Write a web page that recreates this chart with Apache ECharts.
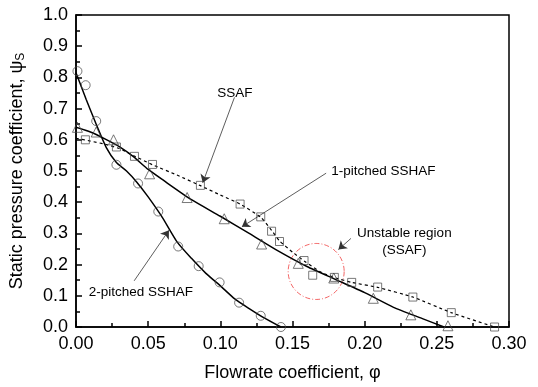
<!DOCTYPE html>
<html>
<head>
<meta charset="utf-8">
<script src="https://cdn.jsdelivr.net/npm/echarts@6/dist/echarts.min.js"></script>
<style>html,body{margin:0;padding:0;background:#fff}#c{width:538px;height:387px}</style>
</head>
<body>
<div id="c"></div>
<script>
// measured points (phi, psi_s)
const twoPitched = [[0.001,0.82],[0.0067,0.775],[0.014,0.66],[0.028,0.52],[0.043,0.46],[0.057,0.37],[0.0708,0.258],[0.085,0.195],[0.0995,0.143],[0.113,0.078],[0.128,0.036],[0.142,0.0]];
const onePitched = [[0.001,0.64],[0.014,0.625],[0.026,0.60],[0.051,0.491],[0.077,0.415],[0.1027,0.347],[0.1286,0.266],[0.154,0.204],[0.1786,0.157],[0.206,0.092],[0.232,0.039],[0.2577,0.004]];
const ssaf = [[0.0065,0.60],[0.028,0.577],[0.0405,0.547],[0.053,0.521],[0.0862,0.454],[0.1137,0.394],[0.128,0.353],[0.1355,0.307],[0.141,0.274],[0.158,0.213],[0.164,0.166],[0.179,0.159],[0.191,0.143],[0.209,0.128],[0.2334,0.096],[0.26,0.046],[0.29,0.0]];
// fitted curves
const twoPitchedFit = [[0,0.815],[0.007,0.73],[0.014,0.65],[0.021,0.575],[0.028,0.527],[0.035,0.50],[0.042,0.465],[0.05,0.417],[0.06,0.35],[0.07,0.273],[0.08,0.22],[0.09,0.172],[0.10,0.132],[0.11,0.09],[0.12,0.059],[0.13,0.03],[0.142,0.0]];
const onePitchedFit = [[0,0.64],[0.01,0.625],[0.02,0.603],[0.03,0.578],[0.04,0.545],[0.05,0.505],[0.06,0.472],[0.08,0.408],[0.10,0.355],[0.12,0.30],[0.14,0.244],[0.16,0.194],[0.18,0.152],[0.20,0.11],[0.22,0.063],[0.24,0.027],[0.255,0.0]];
const ssafFit = [[0,0.605],[0.01,0.596],[0.02,0.586],[0.03,0.572],[0.04,0.549],[0.053,0.52],[0.07,0.487],[0.0862,0.453],[0.10,0.423],[0.1137,0.394],[0.128,0.352],[0.1355,0.31],[0.141,0.276],[0.15,0.24],[0.158,0.212],[0.17,0.175],[0.18,0.157],[0.191,0.143],[0.209,0.127],[0.2334,0.096],[0.26,0.046],[0.29,0.0]];
// unstable region centre
const unstableCentre = [[0.1664,0.178]];
// annotations: text, text anchor, arrow start, arrow end (data coords)
const annTexts = ['SSAF','1-pitched SSHAF','Unstable region\n(SSAF)','2-pitched SSHAF'];
const annAnchors = [[0.110,0.749],[0.2129,0.500],[0.2275,0.273],[0.0449,0.110]];
const annArrows = [
  [[0.1098,0.736],[0.0878,0.462]],
  [[0.1733,0.493],[0.1149,0.321]],
  [[0.1905,0.284],[0.1818,0.248]],
  [[0.0403,0.148],[0.0644,0.310]]
];

const FONT = 'Liberation Sans, Arial, sans-serif';
const chart = echarts.init(document.getElementById('c'));
const markerStyle = {color:'rgba(0,0,0,0)', borderColor:'#444', borderWidth:0.9};
chart.setOption({
  animation:false,
  backgroundColor:'#fff',
  grid:{left:73, top:15, right:29, bottom:53, show:true, borderColor:'#000', borderWidth:1.5, backgroundColor:'transparent'},
  xAxis:{
    type:'value', min:0, max:0.3, interval:0.05,
    name:'Flowrate coefficient, φ', nameLocation:'middle', nameGap:37,
    nameTextStyle:{fontFamily:FONT, fontSize:18, color:'#000'},
    axisLine:{lineStyle:{color:'#000', width:1.5}},
    axisTick:{inside:true, length:6, lineStyle:{color:'#000', width:1.5}},
    minorTick:{show:true, splitNumber:2, length:4, lineStyle:{color:'#000', width:1.5}},
    axisLabel:{fontFamily:FONT, fontSize:18, color:'#000', margin:8, formatter:v=>v.toFixed(2)},
    splitLine:{show:false}
  },
  yAxis:{
    type:'value', min:0, max:1, interval:0.1,
    name:'Static pressure coefficient, ψ{s|S}', nameLocation:'middle', nameGap:49,
    nameTextStyle:{fontFamily:FONT, fontSize:18, color:'#000', rich:{s:{fontFamily:FONT, fontSize:12, color:'#000', padding:[8,0,0,0]}}},
    axisLine:{lineStyle:{color:'#000', width:1.5}},
    axisTick:{inside:true, length:6, lineStyle:{color:'#000', width:1.5}},
    minorTick:{show:true, splitNumber:2, length:4, lineStyle:{color:'#000', width:1.5}},
    axisLabel:{fontFamily:FONT, fontSize:18, color:'#000', margin:8, formatter:v=>v.toFixed(1)},
    splitLine:{show:false}
  },
  series:[
    {type:'scatter', data:unstableCentre, symbol:'circle', symbolSize:56, silent:true, z:1,
     itemStyle:{color:'rgba(0,0,0,0)', borderColor:'#f04040', borderWidth:1, borderType:[5,2,1,2]}},
    {type:'line', data:twoPitchedFit, smooth:0.2, showSymbol:false, lineStyle:{color:'#000', width:1.5}, z:2},
    {type:'line', data:onePitchedFit, smooth:0.2, showSymbol:false, lineStyle:{color:'#000', width:1.5}, z:2},
    {type:'line', data:ssafFit, smooth:0.15, showSymbol:false, lineStyle:{color:'#000', width:1.2, type:[3,3]}, z:2},
    {type:'scatter', data:twoPitched, symbol:'circle', symbolSize:9, itemStyle:markerStyle, z:3},
    {type:'scatter', data:onePitched, symbol:'triangle', symbolSize:10, itemStyle:markerStyle, z:3},
    {type:'scatter', data:ssaf, symbol:'rect', symbolSize:8, itemStyle:markerStyle, z:3},
    {type:'lines', coordinateSystem:'cartesian2d', data:annArrows.map(a=>({coords:a})),
     symbol:['none','arrow'], symbolSize:[0,8], lineStyle:{color:'#333', width:0.8, opacity:1}, z:4}
  ]
});
const texts = annTexts.map((t,i)=>{
  const p = chart.convertToPixel({gridIndex:0}, annAnchors[i]);
  return {type:'text', x:p[0], y:p[1], z:10,
    style:{text:t, fontFamily:FONT, fontSize:13.5, fill:'#000', align:'center', verticalAlign:'middle', lineHeight:17}};
});
chart.setOption({graphic:texts});
</script>
</body>
</html>
